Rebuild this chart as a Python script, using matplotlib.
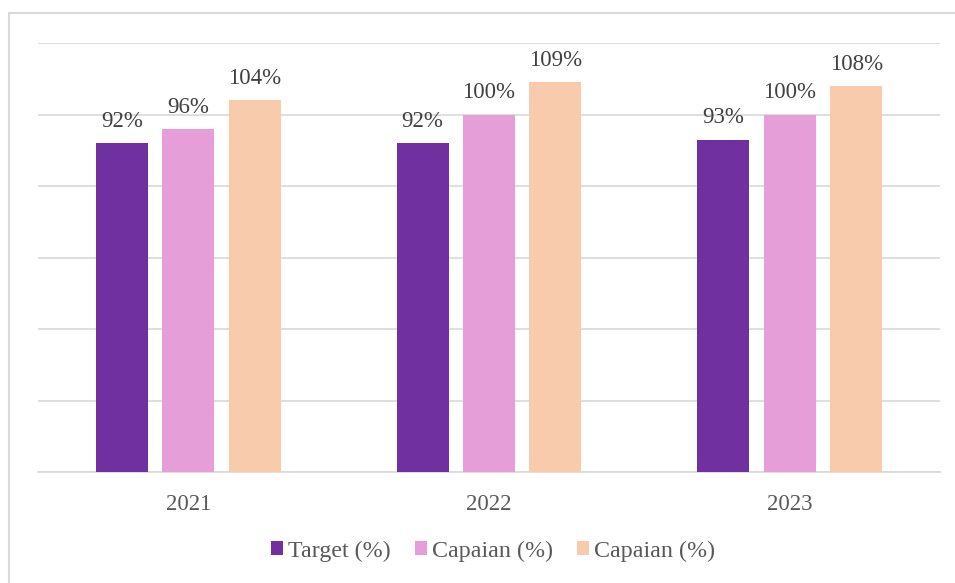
import matplotlib
matplotlib.use("Agg")
import matplotlib.pyplot as plt
from matplotlib.patches import Rectangle, Patch
import numpy as np

years = ["2021", "2022", "2023"]
series_names = ["Target (%)", "Capaian (%)", "Capaian (%)"]
target = [92, 92, 93]
capaian_a = [96, 100, 100]
capaian_b = [104, 109, 108]
colors = ["#7030a0", "#e59ed8", "#f8cbad"]

plt.rcParams["font.family"] = ["Liberation Serif", "DejaVu Serif"]

W, H = 955, 583
fig = plt.figure(figsize=(W / 100, H / 100), dpi=100)
fig.patches.append(Rectangle((9 / W, -0.1), 1.2, 1 - 13 / H + 0.1,
                             transform=fig.transFigure, fill=False,
                             edgecolor="#d9d9d9", linewidth=1.5))

ax = fig.add_axes([38 / W, 1 - 472 / H, (940 - 38) / W, (472 - 43) / H])
x = np.arange(len(years))
width = 0.173
offset = 0.221
for i, (vals, name) in enumerate(zip([target, capaian_a, capaian_b], series_names)):
    pos = x + (i - 1) * offset
    ax.bar(pos, vals, width=width, color=colors[i], zorder=3)
    for p, v in zip(pos, vals):
        ax.text(p, v + 3.1, f"{v}%", ha="center", va="bottom", fontsize=16.5,
                color="#404040", zorder=4)

ax.set_xlim(-0.5, 2.5)
ax.set_ylim(0, 120)
ax.set_yticks(np.arange(0, 121, 20))
ax.yaxis.grid(True, color="#d9d9d9", linewidth=1.2, zorder=0)
ax.tick_params(axis="y", left=False, labelleft=False)
ax.tick_params(axis="x", bottom=False, labelsize=16.5, labelcolor="#595959", pad=12)
ax.set_xticks(x)
ax.set_xticklabels(years)
for s in ["top", "right", "left"]:
    ax.spines[s].set_visible(False)
ax.spines["bottom"].set_color("#d9d9d9")
ax.spines["bottom"].set_linewidth(1.2)

handles = [Patch(facecolor=c, edgecolor="none") for c in colors]
fig.legend(handles, series_names, loc="center", bbox_to_anchor=(493 / W, 1 - 551 / H),
           ncol=3, frameon=False, fontsize=17.3, labelcolor="#595959",
           handlelength=0.5, handleheight=0.5, handletextpad=0.2, columnspacing=1.0)

fig.savefig("out.png", dpi=100, facecolor="white")
